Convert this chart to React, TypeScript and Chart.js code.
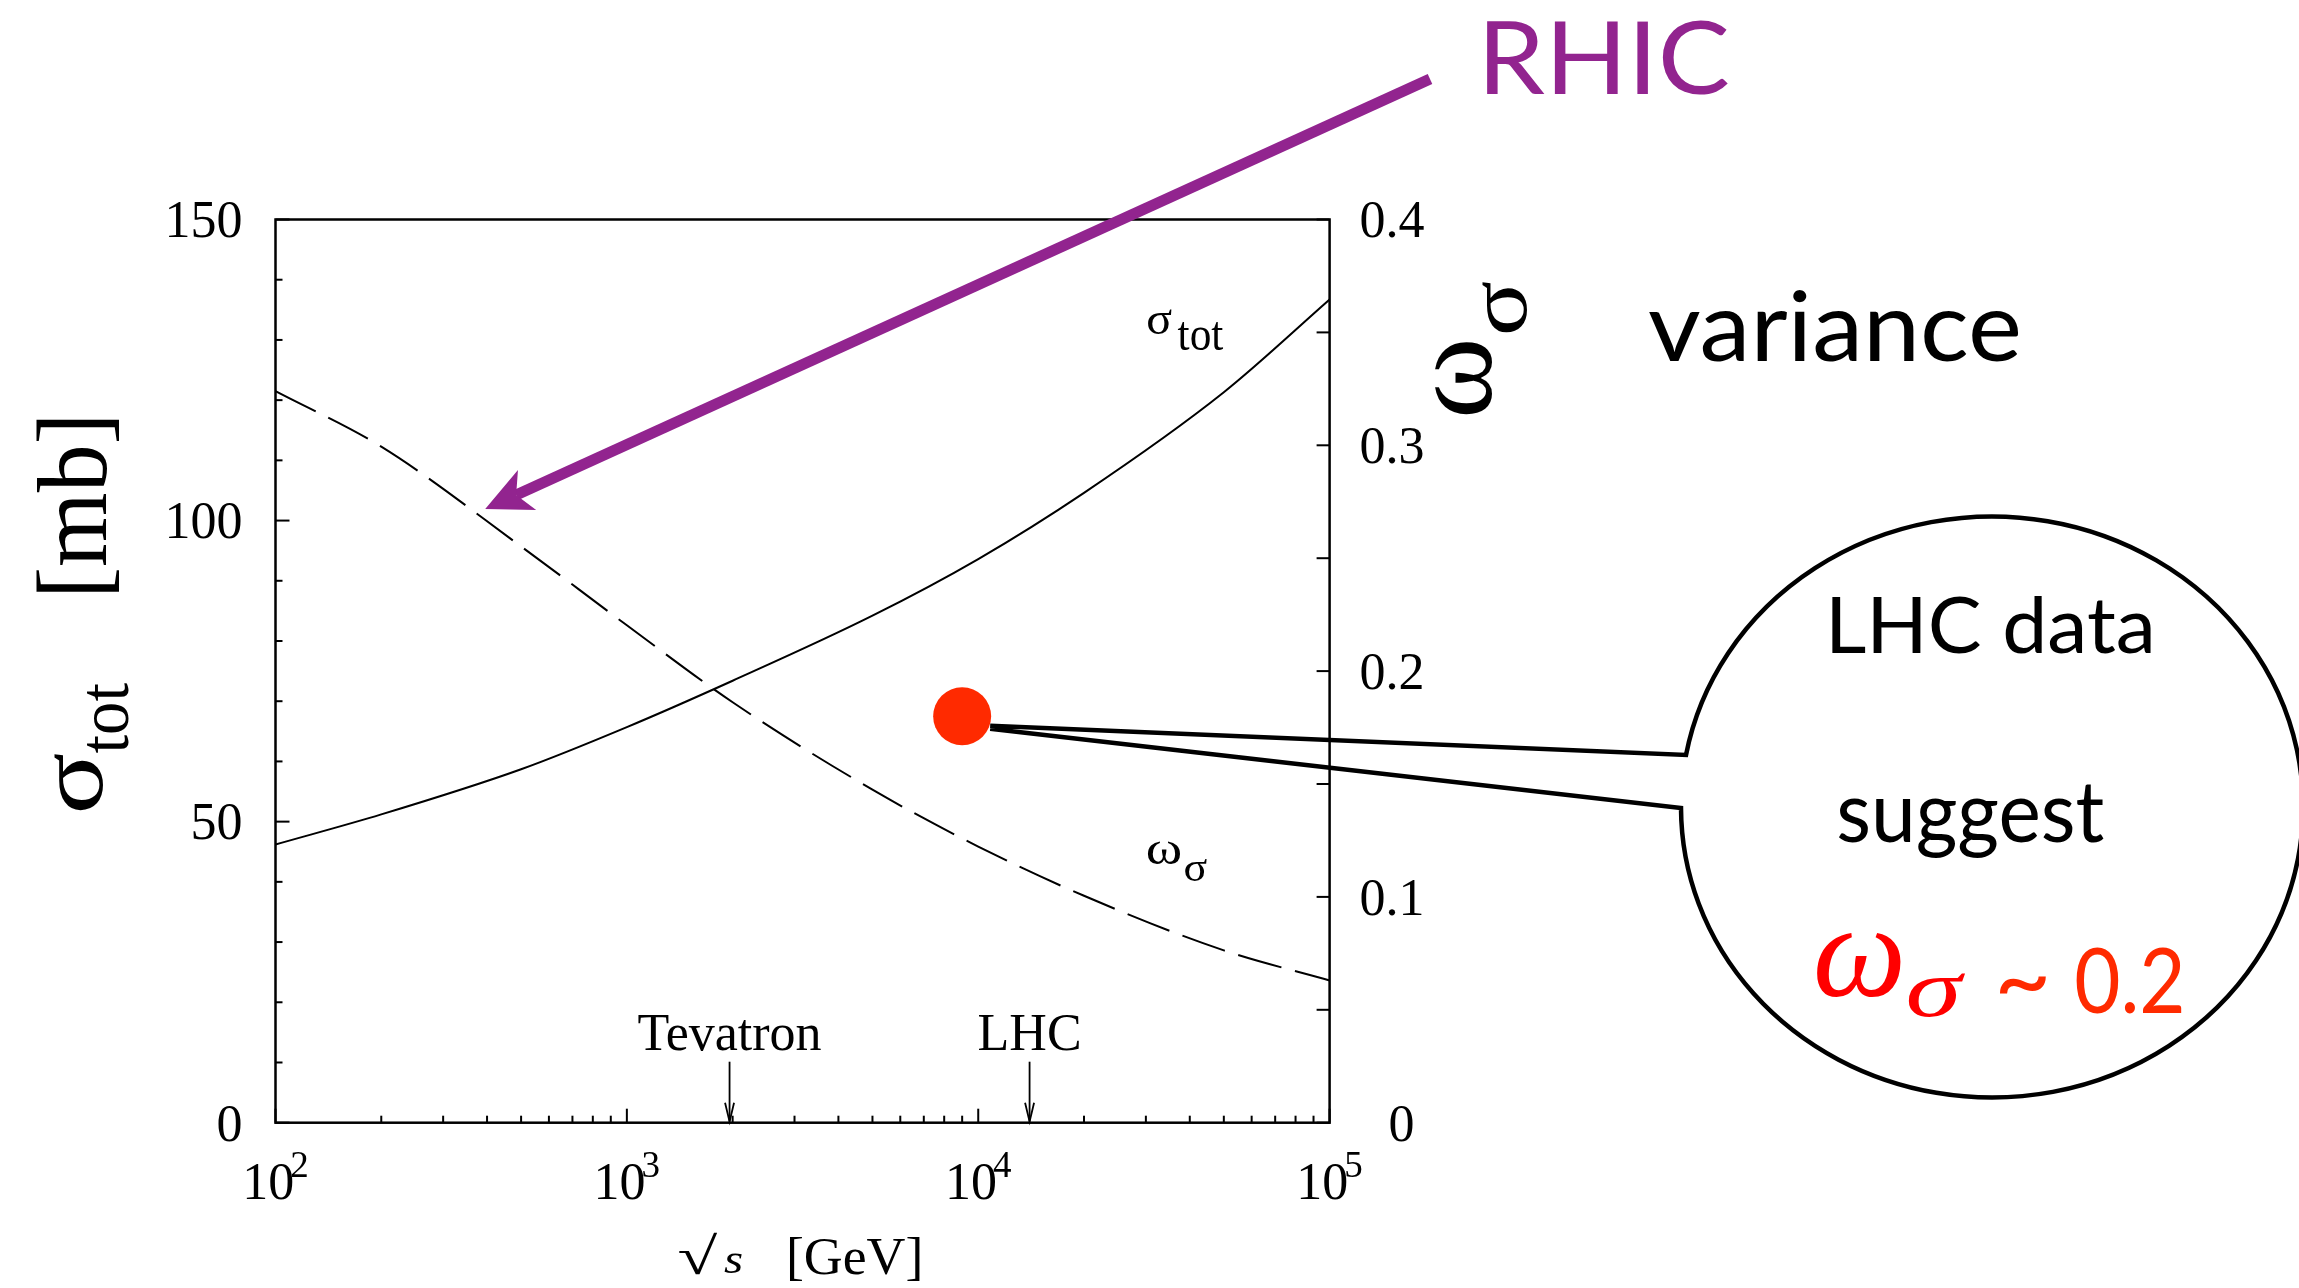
import { useEffect, useRef } from 'react';
import { Chart, registerables } from 'chart.js';

Chart.register(...registerables);

const W = 2299;
const H = 1288;

// centre-of-mass energy grid, √s in GeV
const energies = [100, 200, 500, 1000, 2000, 5000, 10000, 20000, 50000, 100000];
// total cross section, mb (left axis)
const sigmaTot = [46.2, 51.2, 58.7, 65.7, 73.4, 84.2, 93.6, 104.6, 121.3, 136.7];
// cross-section fluctuation variance ω_σ (right axis)
const omegaSigma = [0.324, 0.2994, 0.2552, 0.2203, 0.1862, 0.1475, 0.1223, 0.1005, 0.0763, 0.063];

// LHC estimate of ω_σ
const lhcEnergy = [9000];
const lhcOmega = [0.18];

// collider energies marked on the axis
const colliderNames = ['Tevatron', 'LHC'];
const colliderEnergies = [1960, 14000];

// axis ticks
const sigmaMajor = [0, 50, 100, 150];
const sigmaMinorStep = 10;
const omegaLabels = ['0', '0.1', '0.2', '0.3', '0.4'];
const omegaLabelValues = [0, 0.1, 0.2, 0.3, 0.4];
const omegaTickCount = 8; // every 0.05
const decadeExponents = [2, 3, 4, 5];

const SERIF = '"Liberation Serif", "Times New Roman", serif';
const SANS = 'Lato, "Gill Sans", "Noto Sans", sans-serif';
const PURPLE = '#92248f';
const RED = '#ff2a00';

// draw text so that its ink box fills the given box (optionally rotated a quarter turn)
function inkText(ctx: CanvasRenderingContext2D, text: string, font: string, color: string,
  x0: number, x1: number, y0: number, y1: number, rotated = false) {
  ctx.save();
  ctx.font = font;
  ctx.textAlign = 'left';
  ctx.textBaseline = 'alphabetic';
  const m = ctx.measureText(text);
  const iw = m.actualBoundingBoxLeft + m.actualBoundingBoxRight;
  const ih = m.actualBoundingBoxAscent + m.actualBoundingBoxDescent;
  const icx = (m.actualBoundingBoxRight - m.actualBoundingBoxLeft) / 2;
  const icy = (m.actualBoundingBoxDescent - m.actualBoundingBoxAscent) / 2;
  const bw = x1 - x0;
  const bh = y1 - y0;
  ctx.translate((x0 + x1) / 2, (y0 + y1) / 2);
  if (rotated) {
    ctx.rotate(-Math.PI / 2);
    ctx.scale(bh / iw, bw / ih);
  } else {
    ctx.scale(bw / iw, bh / ih);
  }
  ctx.fillStyle = color;
  ctx.fillText(text, -icx, -icy);
  ctx.restore();
}

function seg(ctx: CanvasRenderingContext2D, x1: number, y1: number, x2: number, y2: number) {
  ctx.beginPath();
  ctx.moveTo(x1, y1);
  ctx.lineTo(x2, y2);
  ctx.stroke();
}

const background = {
  id: 'background',
  beforeDraw(chart: any) {
    const ctx = chart.ctx;
    ctx.save();
    ctx.fillStyle = '#fff';
    ctx.fillRect(0, 0, chart.width, chart.height);
    ctx.restore();
  },
};

const decor = {
  id: 'decor',
  afterDraw(chart: any) {
    const ctx: CanvasRenderingContext2D = chart.ctx;
    const { left, right, top, bottom } = chart.chartArea;
    const xs = chart.scales.x;
    const ys = chart.scales.y;
    const ws = chart.scales.y1;
    ctx.save();
    ctx.strokeStyle = '#000';
    ctx.fillStyle = '#000';
    ctx.lineCap = 'butt';

    // frame
    ctx.lineWidth = 2.5;
    ctx.strokeRect(left, top, right - left, bottom - top);

    // left axis ticks (inside)
    ctx.lineWidth = 2;
    for (let v = 0; v <= 150; v += sigmaMinorStep) {
      const y = ys.getPixelForValue(v);
      const len = sigmaMajor.includes(v) ? 14 : 7;
      seg(ctx, left, y, left + len, y);
    }
    // right axis ticks (inside)
    for (let i = 0; i <= omegaTickCount; i++) {
      const y = ws.getPixelForValue(i * 0.05);
      seg(ctx, right, y, right - 13, y);
    }
    // bottom log ticks (inside)
    for (const e of decadeExponents) {
      for (let k = 1; k <= 9; k++) {
        const v = k * Math.pow(10, e);
        if (v > 100000) break;
        const x = xs.getPixelForValue(v);
        const len = k === 1 ? 14 : 7;
        seg(ctx, x, bottom, x, bottom - len);
      }
    }

    // tick labels
    ctx.font = `52px ${SERIF}`;
    ctx.textBaseline = 'alphabetic';
    ctx.textAlign = 'right';
    for (const v of sigmaMajor) {
      ctx.fillText(String(v), left - 33, ys.getPixelForValue(v) + 17.8);
    }
    ctx.textAlign = 'left';
    omegaLabels.forEach((lab, i) => {
      const y = ws.getPixelForValue(omegaLabelValues[i]) + 17.8;
      ctx.fillText(lab, lab.includes('.') ? right + 30 : right + 59, y);
    });
    for (const e of decadeExponents) {
      const x = xs.getPixelForValue(Math.pow(10, e));
      ctx.font = `52px ${SERIF}`;
      const w10 = ctx.measureText('10').width;
      ctx.font = `37px ${SERIF}`;
      const wsup = ctx.measureText(String(e)).width;
      const x0 = x - (w10 + wsup) / 2 + 2;
      ctx.font = `52px ${SERIF}`;
      ctx.fillText('10', x0, bottom + 76.5);
      ctx.font = `37px ${SERIF}`;
      ctx.fillText(String(e), x0 + w10 - 4, bottom + 54.5);
    }

    // collider markers
    ctx.textAlign = 'center';
    ctx.font = `52px ${SERIF}`;
    ctx.lineWidth = 1.8;
    colliderNames.forEach((name, i) => {
      const x = xs.getPixelForValue(colliderEnergies[i]);
      ctx.fillText(name, x, bottom - 73);
      seg(ctx, x, bottom - 61, x, bottom - 1);
      ctx.beginPath();
      ctx.moveTo(x - 4.5, bottom - 20);
      ctx.lineTo(x, bottom - 1);
      ctx.lineTo(x + 4.5, bottom - 20);
      ctx.stroke();
    });

    // axis titles
    inkText(ctx, '[mb]', `98px ${SERIF}`, '#000', 37, 119, 419, 592, true);
    inkText(ctx, 'σ', `105px ${SERIF}`, '#000', 53.6, 102.7, 753, 810, true);
    inkText(ctx, 'tot', `70px ${SERIF}`, '#000', 87, 129.5, 682.5, 753.5, true);
    inkText(ctx, 'ω', `95px ${SERIF}`, '#000', 1435, 1492, 342, 415, true);
    inkText(ctx, 'σ', `95px ${SERIF}`, '#000', 1483, 1527, 282, 333, true);
    inkText(ctx, '√', `52px ${SERIF}`, '#000', 679, 718, 1232, 1275);
    inkText(ctx, 's', `italic 52px ${SERIF}`, '#000', 724, 742, 1252, 1273.5);
    inkText(ctx, '[GeV]', `52px ${SERIF}`, '#000', 789, 920, 1237, 1281);

    // curve labels
    inkText(ctx, 'σ', `54px ${SERIF}`, '#000', 1148, 1172, 310, 335);
    inkText(ctx, 'tot', `45px ${SERIF}`, '#000', 1177.6, 1223.8, 321.7, 350);
    inkText(ctx, 'ω', `52px ${SERIF}`, '#000', 1148, 1181, 842, 865);
    inkText(ctx, 'σ', `45px ${SERIF}`, '#000', 1184.5, 1207, 858, 881);

    // side note
    inkText(ctx, 'variance', `100px ${SANS}`, '#000', 1649, 2018, 289, 362);

    // RHIC arrow
    const tail = { x: 1430, y: 79 };
    const tip = { x: 485.2, y: 509 };
    const dx = tip.x - tail.x;
    const dy = tip.y - tail.y;
    const L = Math.hypot(dx, dy);
    const ux = dx / L;
    const uy = dy / L;
    const nx = -uy;
    const ny = ux;
    const headLen = 46;
    const headHalf = 22;
    const notch = 34;
    ctx.strokeStyle = PURPLE;
    ctx.fillStyle = PURPLE;
    ctx.lineWidth = 11;
    seg(ctx, tail.x, tail.y, tip.x - ux * notch, tip.y - uy * notch);
    ctx.beginPath();
    ctx.moveTo(tip.x, tip.y);
    ctx.lineTo(tip.x - ux * headLen + nx * headHalf, tip.y - uy * headLen + ny * headHalf);
    ctx.lineTo(tip.x - ux * notch, tip.y - uy * notch);
    ctx.lineTo(tip.x - ux * headLen - nx * headHalf, tip.y - uy * headLen - ny * headHalf);
    ctx.closePath();
    ctx.fill();
    inkText(ctx, 'RHIC', `100px ${SANS}`, PURPLE, 1487, 1728, 19, 95);

    // callout bubble from the LHC point
    const px = xs.getPixelForValue(lhcEnergy[0]);
    const py = ws.getPixelForValue(lhcOmega[0]);
    const cx = 1992;
    const cy = 807;
    const rx = 311;
    const ry = 290.5;
    const a1 = Math.atan2((755 - cy) / ry, (1686 - cx) / rx);
    const a2 = Math.atan2((808 - cy) / ry, (1681.6 - cx) / rx);
    ctx.strokeStyle = '#000';
    ctx.lineWidth = 4.5;
    ctx.lineJoin = 'miter';
    ctx.beginPath();
    ctx.moveTo(px + 28, py + 9.5);
    ctx.lineTo(cx + rx * Math.cos(a1), cy + ry * Math.sin(a1));
    ctx.ellipse(cx, cy, rx, ry, 0, a1, a2, false);
    ctx.lineTo(px + 28, py + 12.5);
    ctx.stroke();

    inkText(ctx, 'LHC data', `80px ${SANS}`, '#000', 1832, 2151, 597.5, 654.4);
    inkText(ctx, 'suggest', `90px ${SANS}`, '#000', 1839, 2104, 785, 858);
    inkText(ctx, 'ω', `italic 120px ${SERIF}`, '#ff0000', 1816, 1901, 933, 997);
    inkText(ctx, 'σ', `italic 90px ${SERIF}`, '#ff0000', 1908, 1966, 973, 1017);
    inkText(ctx, '~', `80px ${SANS}`, RED, 1999, 2046, 976, 993);
    inkText(ctx, '0.2', `86px ${SANS}`, RED, 2076, 2182, 948, 1014.5);

    ctx.restore();
  },
};

export default function App() {
  const canvasRef = useRef<HTMLCanvasElement | null>(null);

  useEffect(() => {
    const canvas = canvasRef.current;
    if (!canvas) return;
    const chart = new Chart(canvas, {
      type: 'line',
      data: {
        datasets: [
          {
            label: 'σ_tot',
            data: energies.map((e, i) => ({ x: e, y: sigmaTot[i] })),
            yAxisID: 'y',
            borderColor: '#000',
            borderWidth: 2,
            pointRadius: 0,
            cubicInterpolationMode: 'monotone',
            fill: false,
          },
          {
            label: 'ω_σ',
            data: energies.map((e, i) => ({ x: e, y: omegaSigma[i] })),
            yAxisID: 'y1',
            borderColor: '#000',
            borderWidth: 2,
            borderDash: [45, 14],
            pointRadius: 0,
            cubicInterpolationMode: 'monotone',
            fill: false,
          },
          {
            type: 'scatter',
            label: 'LHC data',
            data: lhcEnergy.map((e, i) => ({ x: e, y: lhcOmega[i] })),
            yAxisID: 'y1',
            pointRadius: 29,
            pointBackgroundColor: RED,
            backgroundColor: RED,
            borderWidth: 0,
            pointBorderWidth: 0,
            showLine: false,
          } as any,
        ],
      },
      options: {
        responsive: false,
        animation: false,
        events: [],
        layout: {
          padding: { left: 275.5, right: W - 1329.6, top: 219.5, bottom: H - 1122.7 },
        },
        plugins: {
          legend: { display: false },
          tooltip: { enabled: false },
        },
        scales: {
          x: { type: 'logarithmic', min: 100, max: 100000, display: false },
          y: { type: 'linear', min: 0, max: 150, display: false },
          y1: { type: 'linear', min: 0, max: 0.4, display: false, position: 'right' },
        },
      },
      plugins: [background, decor],
    });
    const fonts = (document as any).fonts;
    if (fonts && fonts.load) {
      Promise.all([
        fonts.load(`52px "Liberation Serif"`),
        fonts.load(`italic 52px "Liberation Serif"`),
        fonts.load(`80px Lato`),
      ]).then(() => chart.draw()).catch(() => {});
    }
    return () => chart.destroy();
  }, []);

  return (
    <div style={{ position: 'fixed', left: 0, top: 0, width: W, height: H, background: '#fff' }}>
      <canvas ref={canvasRef} width={W} height={H} style={{ display: 'block', width: W, height: H }} />
    </div>
  );
}
